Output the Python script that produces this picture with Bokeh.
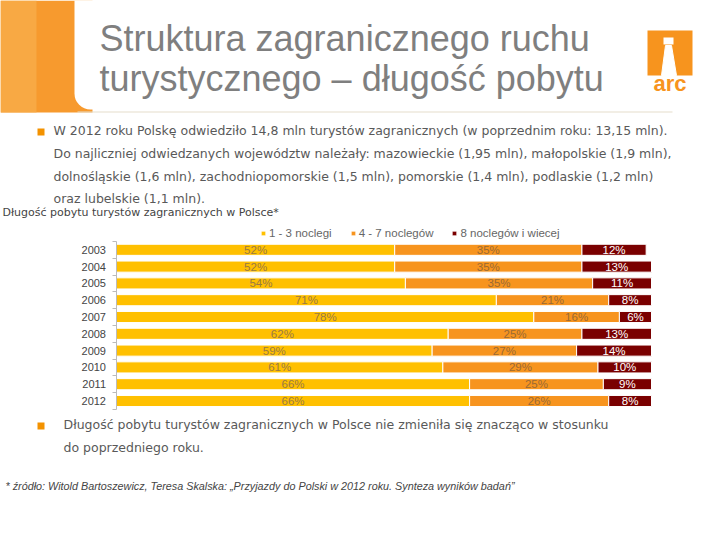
from bokeh.plotting import figure
from bokeh.models import (ColumnDataSource, Range1d, Legend, LegendItem, FixedTicker,
                          BoxAnnotation, LinearAxis)
from bokeh.core.properties import value
from bokeh.embed import file_html
from bokeh.resources import INLINE

# ---------------- data ----------------
years = [2003, 2004, 2005, 2006, 2007, 2008, 2009, 2010, 2011, 2012]
short_stay = [52, 52, 54, 71, 78, 62, 59, 61, 66, 66]      # 1 - 3 noclegi
mid_stay = [35, 35, 35, 21, 16, 25, 27, 29, 25, 26]        # 4 - 7 noclegów
long_stay = [12, 13, 11, 8, 6, 13, 14, 10, 9, 8]           # 8 noclegów i wiecej
series_names = ["1 - 3 noclegi", "4 - 7 noclegów", "8 noclegów i wiecej"]

title_lines = ["Struktura zagranicznego ruchu", "turystycznego – długość pobytu"]
bullet1_lines = [
    "W 2012 roku Polskę odwiedziło 14,8 mln turystów zagranicznych (w poprzednim roku: 13,15 mln).",
    "Do najliczniej odwiedzanych województw należały: mazowieckie (1,95 mln), małopolskie (1,9 mln),",
    "dolnośląskie (1,6 mln), zachodniopomorskie (1,5 mln), pomorskie (1,4 mln), podlaskie (1,2 mln)",
    "oraz lubelskie (1,1 mln).",
]
chart_caption = "Długość pobytu turystów zagranicznych w Polsce*"
bullet2_lines = [
    "Długość pobytu turystów zagranicznych w Polsce nie zmieniła się znacząco w stosunku",
    "do poprzedniego roku.",
]
footnote = "* źródło: Witold Bartoszewicz, Teresa Skalska: „Przyjazdy do Polski w 2012 roku. Synteza wyników badań”"

# ---------------- layout constants (page pixels) ----------------
W, H = 704, 524
BAR_L, BAR_R = 116, 651             # x of 0 % and 100 %
ROW_TOP_Y, ROW_PITCH = 249.3, 16.8  # y of first year row, pixels per year
FONT = "Liberation Sans"
BODY_FONT = "DejaVu Sans"
colors = ["#FFC000", "#F7941E", "#7A0000"]
GREY_TXT = "#595959"

p = figure(width=W, height=H, output_backend="svg", toolbar_location=None,
           x_range=Range1d(0, W), y_range=Range1d(H, 0),
           x_axis_location=None, y_axis_location=None, min_border=0)
p.outline_line_color = None
p.xgrid.visible = False
p.ygrid.visible = False

# percent scale and year scale mapped onto the chart region of the page
ppx = (BAR_R - BAR_L) / 100.0
p.extra_x_ranges = {"pct": Range1d(-BAR_L / ppx, 100 + (W - BAR_R) / ppx)}
p.extra_y_ranges = {"yr": Range1d(years[0] + (H - ROW_TOP_Y) / ROW_PITCH,
                                  years[0] - ROW_TOP_Y / ROW_PITCH)}


def box(x0, y0, x1, y1, color, alpha=1.0, radius=0):
    p.add_layout(BoxAnnotation(left=x0, right=x1, top=y0, bottom=y1, fill_color=color,
                               fill_alpha=alpha, line_color=None, border_radius=radius,
                               level="underlay"))


def txt(x, y, text, size, color=GREY_TXT, style="normal", align="left", font=FONT):
    p.text(x=[x], y=[y], text=[text], text_font=value(font), text_font_size=size,
           text_color=color, text_font_style=style, text_align=align,
           text_baseline="middle")


# ---------------- header ----------------
box(0, 0, 92, 112, "#F79A2E")
box(0, 0, 36, 112, "#F8AC4A", alpha=0.8)
box(74, -30, 740, 109, "white", radius=16)
box(77, 111, 672, 112, "#E6DDCB")

# logo
box(647, 30, 692, 75, "#F7941E")
p.patch(x=[661, 676, 671, 665], y=[75, 75, 45, 45], color="white")
box(663, 37, 673, 44, "white")
txt(669.5, 83, "arc", "22px", color="#F7941E", style="bold", align="center")

txt(99, 38, title_lines[0], "36px", color="#7F7F7F")
txt(99, 78, title_lines[1], "36px", color="#7F7F7F")

box(37, 128, 44, 135, "#F39200")
for k, t in enumerate(bullet1_lines):
    txt(53, 130 + k * 22.8, t, "12.5px", font=BODY_FONT)

txt(2, 212, chart_caption, "11px", color="#444444", font=BODY_FONT)

# ---------------- stacked bars ----------------
src = ColumnDataSource(dict(year=years, s=short_stay, m=mid_stay, l=long_stay))
rs = p.hbar_stack(["s", "m", "l"], y="year", height=0.66, color=colors, source=src,
                  line_color="white", line_width=1, x_range_name="pct", y_range_name="yr")

lab_x, lab_y, lab_t, lab_c = [], [], [], []
text_cols = ["#9A7A45", "#9A6A35", "#FFFFFF"]
for i, y in enumerate(years):
    left = 0
    for k, vals in enumerate([short_stay, mid_stay, long_stay]):
        v = vals[i]
        lab_x.append(left + v / 2)
        lab_y.append(y)
        lab_t.append(f"{v}%")
        lab_c.append(text_cols[k])
        left += v
p.text(x=lab_x, y=lab_y, text=lab_t, text_color=lab_c, text_align="center",
       text_baseline="middle", text_font=value(FONT), text_font_size="11.5px",
       x_range_name="pct", y_range_name="yr")

ax = LinearAxis(y_range_name="yr", fixed_location=BAR_L - 0.5)
ax.ticker = FixedTicker(ticks=years, minor_ticks=[y - 0.5 for y in years] + [years[-1] + 0.5])
ax.bounds = (years[0] - 0.5, years[-1] + 0.5)
ax.major_label_text_font = FONT
ax.major_label_text_font_size = "11px"
ax.major_label_text_color = "#444444"
ax.axis_line_color = "#BBBBBB"
ax.major_tick_line_color = None
ax.minor_tick_line_color = "#BBBBBB"
ax.minor_tick_out = 4
ax.minor_tick_in = 0
ax.major_label_standoff = 4
p.add_layout(ax, "left")

legend = Legend(items=[LegendItem(label=n, renderers=[r]) for n, r in zip(series_names, rs)],
                orientation="horizontal", location=(260, 285), glyph_width=6, glyph_height=6,
                label_standoff=3, spacing=18, padding=0, margin=0, label_height=12,
                label_text_font=FONT, label_text_font_size="11.5px", label_text_color="#666666",
                border_line_color=None, background_fill_alpha=0)
p.add_layout(legend)

# ---------------- bottom text ----------------
box(37, 422, 44, 429, "#F39200")
for k, t in enumerate(bullet2_lines):
    txt(63, 424 + k * 22.5, t, "12.5px", font=BODY_FONT)
txt(5, 485, footnote, "10.8px", color="#444444", style="italic")

open("out.html", "w").write(file_html(p, INLINE))
